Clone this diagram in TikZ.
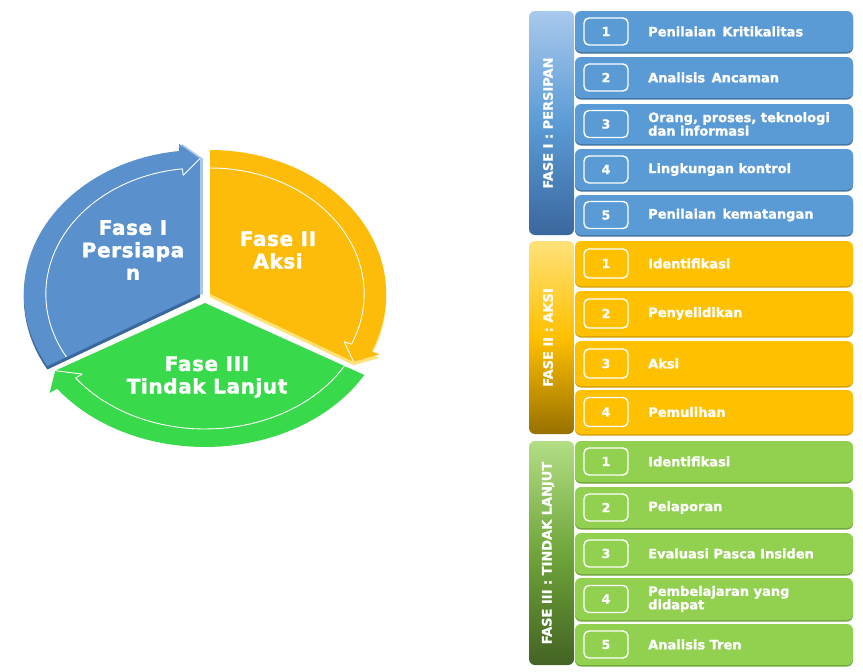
\documentclass[tikz,border=0pt]{standalone}
\usepackage{fontspec}
\setmainfont{DejaVu Sans}
\newfontfamily\rowfont{DejaVu Sans}[BoldFeatures={FakeBold=1.2}]
\newfontfamily\barfont{DejaVu Sans}[BoldFeatures={FakeBold=0.8}]
\newfontfamily\cyclefont{DejaVu Sans}[LetterSpace=3, BoldFeatures={FakeBold=1.8}]
\usetikzlibrary{calc}

% list colours
\definecolor{rowblue}{HTML}{5B9BD5}
\definecolor{rowblueshade}{HTML}{41739F}
\definecolor{rowgold}{HTML}{FFC000}
\definecolor{rowgoldshade}{HTML}{D8A200}
\definecolor{rowgreen}{HTML}{92D050}
\definecolor{rowgreenshade}{HTML}{6FA53A}
% cycle colours
\definecolor{pieceblue}{HTML}{5A90CC}
\definecolor{piecebluelight}{HTML}{A9C9EC}
\definecolor{piecebluedark}{HTML}{3A679E}
\definecolor{piecegold}{HTML}{FDBB0A}
\definecolor{piecegoldlight}{HTML}{FFE27A}
\definecolor{piecegreen}{HTML}{38D94A}

% radii of the cycle ring
\def\rx{176}
\def\ry{144}

% filled slice with its curved arrow: centre x, centre y, start angle, end angle, options
\newcommand{\piecefill}[5]{%
  \pgfmathsetmacro\headstart{#4-6.5}%
  \fill[#5] (#1,#2) -- ({#1+\rx*cos(#3)},{#2+\ry*sin(#3)})
    -- plot[domain=#3:\headstart,samples=40] ({#1+\rx*cos(\x)},{#2+\ry*sin(\x)})
    -- ({#1+1.05*\rx*cos(\headstart)},{#2+1.05*\ry*sin(\headstart)})
    -- ({#1+0.94*\rx*cos(#4)},{#2+0.94*\ry*sin(#4)}) -- cycle;}

% thin inner edge of the curved arrow
\newcommand{\pieceline}[4]{%
  \pgfmathsetmacro\headstart{#4-6.5}%
  \draw[ringline] ({#1+0.875*\rx*cos(#3)},{#2+0.875*\ry*sin(#3)})
    -- plot[domain=#3:\headstart,samples=40] ({#1+0.875*\rx*cos(\x)},{#2+0.875*\ry*sin(\x)})
    -- ({#1+0.83*\rx*cos(\headstart)},{#2+0.83*\ry*sin(\headstart)})
    -- ({#1+0.94*\rx*cos(#4)},{#2+0.94*\ry*sin(#4)});}

% one numbered step: name, y, height, colour, box height, number, text
\newcommand{\steprow}[7]{%
  \node[rowbox, fill=#4shade, minimum height=#3pt] (#1s) at (714,#2+1.5) {};
  \node[rowbox, fill=#4, minimum height=#3pt] (#1) at (714,#2) {};
  \node[numbox, minimum height=#5pt] (#1n) at (606,#2) {#6};
  \node[rowtext] (#1t) at (648,#2) {#7};}

\begin{document}
\begin{tikzpicture}[x=1pt,y=-1pt,
  rowbox/.style={rounded corners=6pt, minimum width=278pt, inner sep=0pt},
  numbox/.style={draw=white, line width=1.4pt, rounded corners=5pt,
    minimum width=44pt, inner sep=0pt, text=white,
    font=\rowfont\bfseries\fontsize{12.5}{14}\selectfont},
  rowtext/.style={anchor=west, inner sep=0pt, text=white, align=left,
    font=\rowfont\bfseries\fontsize{13}{13.5}\selectfont},
  sidebar/.style={rounded corners=6pt, minimum width=45pt, inner sep=0pt},
  barlabel/.style={rotate=90, inner sep=0pt, text=white,
    font=\barfont\bfseries\fontsize{13}{14}\selectfont},
  cycletext/.style={inner sep=0pt, text=white, align=center,
    font=\cyclefont\bfseries\fontsize{20}{22.5}\selectfont},
  ringline/.style={draw=white, line width=0.9pt, line join=round}]

\fill[white] (0,0) rectangle (863,672);
\useasboundingbox (0,0) rectangle (863,672);

% ---- cycle of the three phases ----
% phase I (blue, top left)
\piecefill{199.8}{294}{150}{270}{piecebluelight, shift={(3,0)}}
\piecefill{199.8}{294}{150}{270}{piecebluedark, shift={(0,3.5)}}
\piecefill{199.8}{294}{150}{270}{pieceblue}
\pieceline{199.8}{294}{150}{270}
% phase II (gold, right)
\piecefill{210.2}{294}{-90}{30}{piecegoldlight, shift={(0,3.5)}}
\piecefill{210.2}{294}{-90}{30}{piecegold}
\pieceline{210.2}{294}{-90}{30}
% phase III (green, bottom), seen a little larger in front
\def\rx{184}
\piecefill{205}{303}{30}{150}{piecegreen}
\pieceline{205}{303}{30}{150}

\node[cycletext] (cycI) at (133,250) {Fase I\\Persiapa\\n};
\node[cycletext] (cycII) at (278,250) {Fase II\\Aksi};
\node[cycletext] (cycIII) at (207,377) {Fase III\\Tindak Lanjut};

% ---- phase I list ----
\node[sidebar, top color=piecebluelight, bottom color=piecebluedark, middle color=rowblue,
  minimum height=224pt] (barI) at (551.5,123) {};
\node[barlabel] (barIt) at (548,123) {FASE I : PERSIPAN};
\steprow{pA}{31.5}{41}{rowblue}{27}{1}{Penilaian\hspace{2pt} Kritikalitas}
\steprow{pB}{77.5}{41}{rowblue}{27}{2}{Analisis\hspace{2pt} Ancaman}
\steprow{pC}{124}{40}{rowblue}{27}{3}{Orang, proses, teknologi\\dan informasi}
\steprow{pD}{169.5}{41}{rowblue}{27}{4}{Lingkungan kontrol}
\steprow{pE}{215}{40}{rowblue}{27}{5}{Penilaian\hspace{2pt} kematangan}

% ---- phase II list ----
\node[sidebar, top color=piecegoldlight, bottom color=rowgoldshade!70!black, middle color=rowgold,
  minimum height=193pt] (barII) at (551.5,337.5) {};
\node[barlabel] (barIIt) at (548,337.5) {FASE II : AKSI};
\steprow{aA}{263.5}{45}{rowgold}{29}{1}{Identifikasi}
\steprow{aB}{313.5}{45}{rowgold}{29}{2}{Penyelidikan}
\steprow{aC}{363.5}{45}{rowgold}{29}{3}{Aksi}
\steprow{aD}{412}{44}{rowgold}{29}{4}{Pemulihan}

% ---- phase III list ----
\node[sidebar, top color=rowgreen!70!white, bottom color=rowgreenshade!60!black, middle color=rowgreenshade,
  minimum height=224pt] (barIII) at (551.5,553) {};
\node[barlabel] (barIIIt) at (548,553) {FASE III : TINDAK LANJUT};
\steprow{tA}{461.5}{41}{rowgreen}{27}{1}{Identifikasi}
\steprow{tB}{507.5}{41}{rowgreen}{27}{2}{Pelaporan}
\steprow{tC}{553.5}{41}{rowgreen}{27}{3}{Evaluasi Pasca Insiden}
\steprow{tD}{599}{42}{rowgreen}{27}{4}{Pembelajaran yang\\didapat}
\steprow{tE}{644.5}{41}{rowgreen}{27}{5}{Analisis Tren}
\end{tikzpicture}
\end{document}
